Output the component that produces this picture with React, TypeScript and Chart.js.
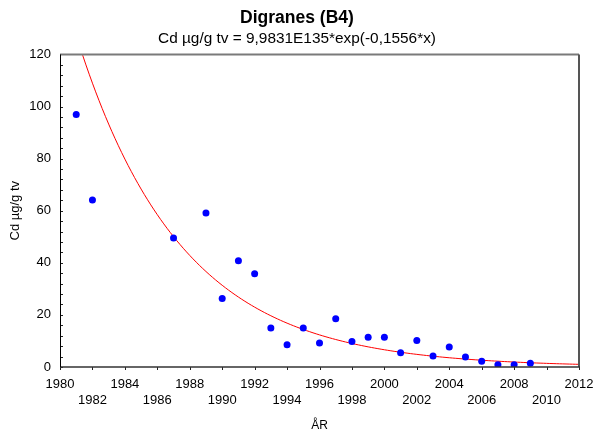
import React, { useEffect, useRef } from "react";
import { Chart, registerables } from "chart.js";

Chart.register(...registerables);

// ---- data ----
const years = [1981, 1982, 1987, 1989, 1990, 1991, 1992, 1993, 1994, 1995, 1996, 1997, 1998, 1999, 2000, 2001, 2002, 2003, 2004, 2005, 2006, 2007, 2008, 2009];
const cdValues = [97, 64.1, 49.5, 59.1, 26.3, 40.8, 35.8, 15, 8.5, 15, 9.2, 18.5, 9.8, 11.4, 11.4, 5.5, 10.2, 4.2, 7.7, 3.8, 2.2, 0.9, 0.9, 1.4];

// fitted model: Cd = A * exp(-B * x); subtitle shows B rounded to 0.1556,
// the drawn curve matches B ≈ 0.15563
const FIT_A = 9.9831e135;
const FIT_B = 0.15563;
const fitYears: number[] = [];
for (let i = 0; i <= 160; i++) fitYears.push(1980 + i * 0.2);

const xTickMin = 1980;
const xTickMax = 2012;
const xTickStep = 2;
const yTickMin = 0;
const yTickMax = 120;
const yTickStep = 20;
const yMinorStep = 4;

const titleText = "Digranes (B4)";
const subtitleText = "Cd µg/g tv = 9,9831E135*exp(-0,1556*x)";
const xTitle = "ÅR";
const yTitle = "Cd µg/g tv";

const FONT = "'Liberation Sans', Arial, sans-serif";

const framePlugin = {
  id: "frame",
  afterDatasetsDraw(chart: any) {
    const { ctx, chartArea } = chart;
    const { left, right, top, bottom } = chartArea;
    const xs = chart.scales.x;
    const ys = chart.scales.y;
    ctx.save();
    ctx.strokeStyle = "#222";
    ctx.lineWidth = 1;
    ctx.beginPath();
    for (let v = yTickMin; v <= yTickMax; v += yMinorStep) {
      const py = Math.round(ys.getPixelForValue(v)) + 0.5;
      ctx.moveTo(left, py);
      ctx.lineTo(left + 3, py);
    }
    for (let v = xTickMin; v <= xTickMax; v += xTickStep) {
      const px = Math.round(xs.getPixelForValue(v)) + 0.5;
      ctx.moveTo(px, bottom);
      ctx.lineTo(px, bottom + 3);
    }
    ctx.stroke();
    ctx.strokeStyle = "#7a7a7a";
    ctx.lineWidth = 2;
    ctx.beginPath();
    ctx.moveTo(left, top);
    ctx.lineTo(right, top);
    ctx.stroke();
    ctx.strokeStyle = "#555";
    ctx.beginPath();
    ctx.moveTo(right, top);
    ctx.lineTo(right, bottom);
    ctx.stroke();
    ctx.strokeStyle = "#333";
    ctx.lineWidth = 1.5;
    ctx.beginPath();
    ctx.moveTo(left, bottom);
    ctx.lineTo(right + 1, bottom);
    ctx.stroke();
    ctx.strokeStyle = "#000";
    ctx.lineWidth = 1;
    ctx.beginPath();
    ctx.moveTo(left + 0.5, top);
    ctx.lineTo(left + 0.5, bottom);
    ctx.stroke();
    ctx.restore();
  },
};

export default function App() {
  const ref = useRef<HTMLCanvasElement | null>(null);

  useEffect(() => {
    if (!ref.current) return;
    const chart = new Chart(ref.current, {
      type: "scatter",
      data: {
        datasets: [
          {
            type: "line",
            label: "fit",
            data: fitYears.map((x) => ({ x, y: FIT_A * Math.exp(-FIT_B * x) })),
            borderColor: "#ff0000",
            borderWidth: 1,
            pointRadius: 0,
            fill: false,
            tension: 0,
            order: 2,
          } as any,
          {
            type: "scatter",
            label: "Cd",
            data: years.map((x, i) => ({ x, y: cdValues[i] })),
            backgroundColor: "#0000ff",
            borderColor: "#0000ff",
            pointRadius: 3.5,
            pointBorderWidth: 0,
            order: 1,
          },
        ],
      },
      options: {
        responsive: false,
        animation: false,
        layout: { padding: 0 },
        plugins: {
          legend: { display: false },
          tooltip: { enabled: false },
          title: {
            display: true,
            text: titleText,
            color: "#000",
            font: { family: FONT, size: 17.5, weight: "bold" },
            padding: { top: 8, bottom: 0 },
          },
          subtitle: {
            display: true,
            text: subtitleText,
            color: "#000",
            font: { family: FONT, size: 15.4 },
            padding: { top: 1, bottom: 6 },
          },
        },
        scales: {
          x: {
            type: "linear",
            min: xTickMin,
            max: xTickMax,
            grid: { display: false, drawTicks: false },
            border: { display: false },
            ticks: {
              stepSize: xTickStep,
              autoSkip: false,
              maxRotation: 0,
              padding: 10,
              color: "#000",
              font: { family: FONT, size: 13 },
              callback: (value: any) => {
                const v = Number(value);
                return ((v - xTickMin) / xTickStep) % 2 === 0 ? String(v) : ["", String(v)];
              },
            },
            title: {
              display: true,
              text: xTitle,
              color: "#000",
              font: { family: FONT, size: 12 },
              padding: { top: 0, bottom: 3 },
            },
            afterFit: (scale: any) => {
              scale.height = 69;
              scale.paddingLeft = 0;
              scale.paddingRight = 15;
            },
          },
          y: {
            type: "linear",
            min: yTickMin,
            max: yTickMax,
            grid: { display: false, drawTicks: false },
            border: { display: false },
            ticks: {
              stepSize: yTickStep,
              padding: 9,
              color: "#000",
              font: { family: FONT, size: 13 },
            },
            title: {
              display: true,
              text: yTitle,
              color: "#000",
              font: { family: FONT, size: 13 },
              padding: { top: 8, bottom: 0 },
            },
            afterFit: (scale: any) => {
              scale.width = 60;
            },
          },
        },
      },
      plugins: [framePlugin],
    } as any);
    return () => chart.destroy();
  }, []);

  return (
    <div style={{ position: "absolute", left: 0, top: 0, width: 594, height: 436, background: "#fff" }}>
      <canvas ref={ref} width={594} height={436} style={{ display: "block" }} />
    </div>
  );
}
